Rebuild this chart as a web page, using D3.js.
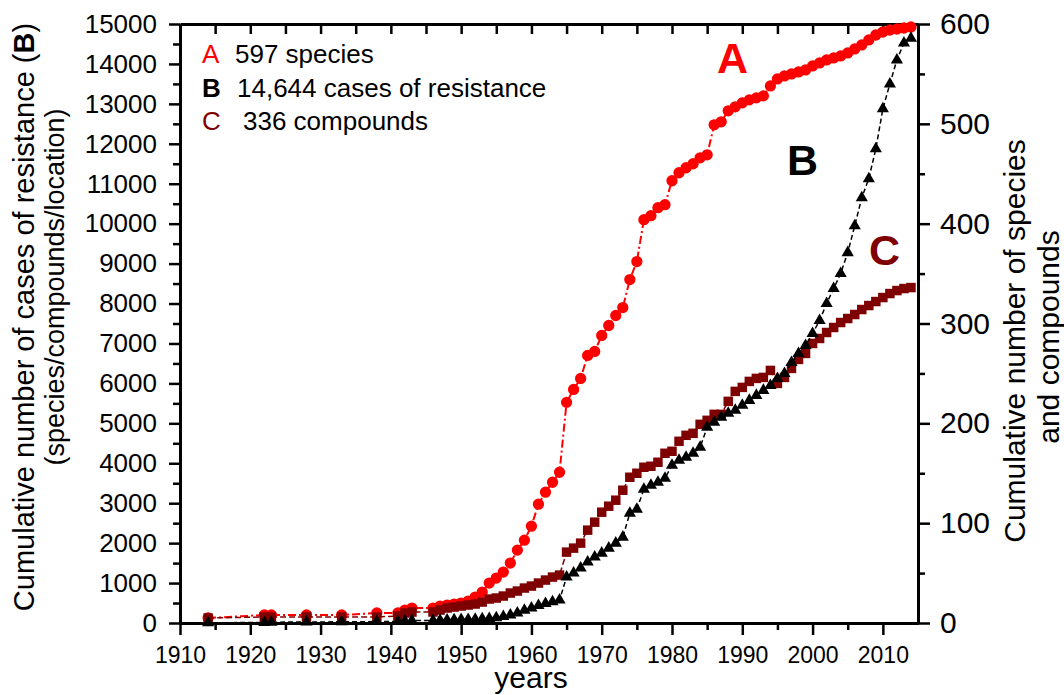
<!DOCTYPE html>
<html>
<head>
<meta charset="utf-8">
<script src="https://cdn.jsdelivr.net/npm/d3@7"></script>
<style>
  body { margin: 0; background: #fff; }
  svg { display: block; font-family: "Liberation Sans", Arial, sans-serif; }
</style>
</head>
<body>
<div id="chart"></div>
<script>
// years with a data point (all three series share them)
const years = [1914, 1922, 1923, 1928, 1933, 1938, 1941, 1942, 1943,
  1946, 1947, 1948, 1949, 1950, 1951, 1952, 1953, 1954, 1955,
  1956, 1957, 1958, 1959, 1960, 1961, 1962, 1963, 1964, 1965,
  1966, 1967, 1968, 1969, 1970, 1971, 1972, 1973, 1974, 1975,
  1976, 1977, 1978, 1979, 1980, 1981, 1982, 1983, 1984, 1985,
  1986, 1987, 1988, 1989, 1990, 1991, 1992, 1993, 1994, 1995,
  1996, 1997, 1998, 1999, 2000, 2001, 2002, 2003, 2004, 2005,
  2006, 2007, 2008, 2009, 2010, 2011, 2012, 2013, 2014];

// A - cumulative species (right axis)
const species = [5, 8, 8, 8, 8, 10, 10, 13, 15,
  15, 17, 18, 19, 20, 22, 26, 31, 40, 45,
  51, 60, 73, 83, 97, 119, 131, 141, 151, 221,
  234, 245, 268, 272, 288, 298, 308, 316, 344, 362,
  404, 408, 416, 419, 443, 451, 456, 460, 466, 469,
  499, 502, 513, 517, 521, 524, 526, 528, 538, 545,
  548, 550, 552, 554, 558, 561, 564, 566, 568, 571,
  575, 579, 584, 589, 592, 594, 595, 596, 597];

// B - cumulative cases of resistance (left axis)
const cases = [5, 15, 20, 25, 30, 35, 40, 50, 60,
  65, 70, 75, 80, 85, 90, 95, 105, 115, 130,
  160, 200, 250, 320, 375, 440, 490, 530, 575, 1150,
  1250, 1375, 1525, 1650, 1750, 1875, 2000, 2150, 2750, 2850,
  3350, 3450, 3525, 3625, 3950, 4075, 4150, 4250, 4400, 4900,
  5025, 5150, 5250, 5325, 5450, 5575, 5700, 5825, 5950, 6125,
  6250, 6525, 6750, 6950, 7250, 7575, 8000, 8375, 8750, 9275,
  9950, 10650, 11125, 11875, 12875, 13500, 14100, 14525, 14644];

// C - cumulative compounds (right axis)
const compounds = [5, 6, 6, 6, 6, 6, 7, 10, 11,
  11, 13, 15, 16, 17, 18, 19, 21, 24, 25,
  27, 30, 32, 35, 37, 40, 43, 46, 48, 71,
  75, 80, 93, 101, 111, 117, 123, 133, 146, 150,
  156, 157, 161, 170, 172, 182, 188, 190, 199, 203,
  209, 209, 222, 232, 236, 242, 245, 246, 253, 240,
  246, 255, 264, 270, 280, 285, 291, 296, 301, 305,
  309, 314, 318, 322, 326, 330, 333, 335, 336];

const yearTicks = [1910, 1920, 1930, 1940, 1950, 1960, 1970, 1980, 1990, 2000, 2010];
const yearMinor = [1915, 1925, 1935, 1945, 1955, 1965, 1975, 1985, 1995, 2005];
const yearTop = [1915, 1920, 1925, 1930, 1935, 1940, 1945, 1950, 1955, 1960, 1965,
  1970, 1975, 1980, 1985, 1990, 1995, 2000, 2005, 2010];
const casesTicks = [0, 1000, 2000, 3000, 4000, 5000, 6000, 7000, 8000, 9000,
  10000, 11000, 12000, 13000, 14000, 15000];
const casesMinor = [500, 1500, 2500, 3500, 4500, 5500, 6500, 7500, 8500, 9500,
  10500, 11500, 12500, 13500, 14500];
const countTicks = [0, 100, 200, 300, 400, 500, 600];
const countMinor = [50, 150, 250, 350, 450, 550];

const legendLetters = ["A", "B", "C"];
const legendTexts = ["597 species", "14,644 cases of resistance", "336 compounds"];

const RED = "#ff0000", DARK = "#7f0000";

const svg = d3.select("#chart").append("svg").attr("width", 1064).attr("height", 695);

const x = d3.scaleLinear().domain([1910, 2015]).range([180, 918]);
const yCases = d3.scaleLinear().domain([0, 15000]).range([623, 24]);
const yCount = d3.scaleLinear().domain([0, 600]).range([623, 24]);

const styleAxis = (g, size) => {
  g.attr("font-family", "Liberation Sans, Arial, sans-serif").attr("font-size", size);
  g.select(".domain").attr("stroke-width", 3);
  g.selectAll(".tick line").attr("stroke-width", 2.5);
  g.selectAll(".tick text").attr("fill", "#000");
};

// bottom axis
svg.append("g").attr("transform", "translate(0,623)")
  .call(d3.axisBottom(x).tickValues(yearMinor).tickSize(7).tickSizeOuter(0).tickFormat(""))
  .call(styleAxis, 23);
svg.append("g").attr("transform", "translate(0,623)")
  .call(d3.axisBottom(x).tickValues(yearTicks).tickSize(12).tickSizeOuter(0).tickPadding(12).tickFormat(d3.format("d")))
  .call(styleAxis, 23);

// top axis, ticks inside
svg.append("g").attr("transform", "translate(0,24)")
  .call(d3.axisBottom(x).tickValues(yearTop).tickSize(10).tickSizeOuter(0).tickFormat(""))
  .call(styleAxis, 23);

// left axis (cases)
svg.append("g").attr("transform", "translate(180,0)")
  .call(d3.axisLeft(yCases).tickValues(casesMinor).tickSize(7).tickSizeOuter(0).tickFormat(""))
  .call(styleAxis, 26);
svg.append("g").attr("transform", "translate(180,0)")
  .call(d3.axisLeft(yCases).tickValues(casesTicks).tickSize(11).tickSizeOuter(0).tickPadding(12).tickFormat(d3.format("d")))
  .call(styleAxis, 26);

// right axis (species and compounds)
svg.append("g").attr("transform", "translate(918,0)")
  .call(d3.axisRight(yCount).tickValues(countMinor).tickSize(7).tickSizeOuter(0).tickFormat(""))
  .call(styleAxis, 30);
svg.append("g").attr("transform", "translate(918,0)")
  .call(d3.axisRight(yCount).tickValues(countTicks).tickSize(12).tickSizeOuter(0).tickPadding(10).tickFormat(d3.format("d")))
  .call(styleAxis, 30);

// axis titles
svg.append("text").attr("transform", "translate(34,317) rotate(-90)")
  .attr("text-anchor", "middle").attr("font-size", 29)
  .text("Cumulative number of cases of resistance (")
  .call(t => t.append("tspan").attr("font-weight", "bold").text("B"))
  .call(t => t.append("tspan").text(")"));
svg.append("text").attr("transform", "translate(64,287) rotate(-90)")
  .attr("text-anchor", "middle").attr("font-size", 27)
  .text("(species/compounds/location)");

svg.append("text").attr("transform", "translate(1025,341) rotate(-90)")
  .attr("text-anchor", "middle").attr("font-size", 30)
  .text("Cumulative number of species");
svg.append("text").attr("transform", "translate(1059,337) rotate(-90)")
  .attr("text-anchor", "middle").attr("font-size", 30)
  .text("and compounds");

svg.append("text").attr("x", 531).attr("y", 688)
  .attr("text-anchor", "middle").attr("font-size", 30)
  .text("years");

// series
const series = [
  { values: species, y: yCount, color: RED, dash: "8,3,2,3", width: 2, symbol: d3.symbolCircle, size: 100 },
  { values: compounds, y: yCount, color: DARK, dash: "6,3", width: 1.5, symbol: d3.symbolSquare, size: 90 },
  { values: cases, y: yCases, color: "#000", dash: "5,3", width: 1.5, symbol: d3.symbolTriangle, size: 64 }
];

series.forEach(s => {
  const pts = years.map((yr, i) => [x(yr), s.y(s.values[i])]);
  const g = svg.append("g");
  g.append("path").attr("d", d3.line()(pts))
    .attr("fill", "none").attr("stroke", s.color)
    .attr("stroke-width", s.width).attr("stroke-dasharray", s.dash);
  g.selectAll("path.mark").data(pts).enter().append("path")
    .attr("class", "mark")
    .attr("transform", d => `translate(${d[0]},${d[1]})`)
    .attr("d", d3.symbol().type(s.symbol).size(s.size))
    .attr("fill", s.color);
});

// legend
const legendColors = [RED, "#000", DARK];
const legendX = [235, 237, 243];
legendLetters.forEach((l, i) => {
  svg.append("text").attr("x", 202).attr("y", 63 + i * 33.5)
    .attr("font-size", 26).attr("fill", legendColors[i])
    .attr("font-weight", i === 1 ? "bold" : "normal").text(l);
  svg.append("text").attr("x", legendX[i]).attr("y", 63 + i * 33.5)
    .attr("font-size", 26).attr("fill", "#000").text(legendTexts[i]);
});

// big series labels
const bigLabels = [
  { t: "A", x: 717, y: 73, c: RED },
  { t: "B", x: 787, y: 175, c: "#000" },
  { t: "C", x: 869, y: 265, c: DARK }
];
bigLabels.forEach(b => {
  svg.append("text").attr("x", b.x).attr("y", b.y)
    .attr("font-size", 43).attr("font-weight", "bold").attr("fill", b.c).text(b.t);
});
</script>
</body>
</html>
